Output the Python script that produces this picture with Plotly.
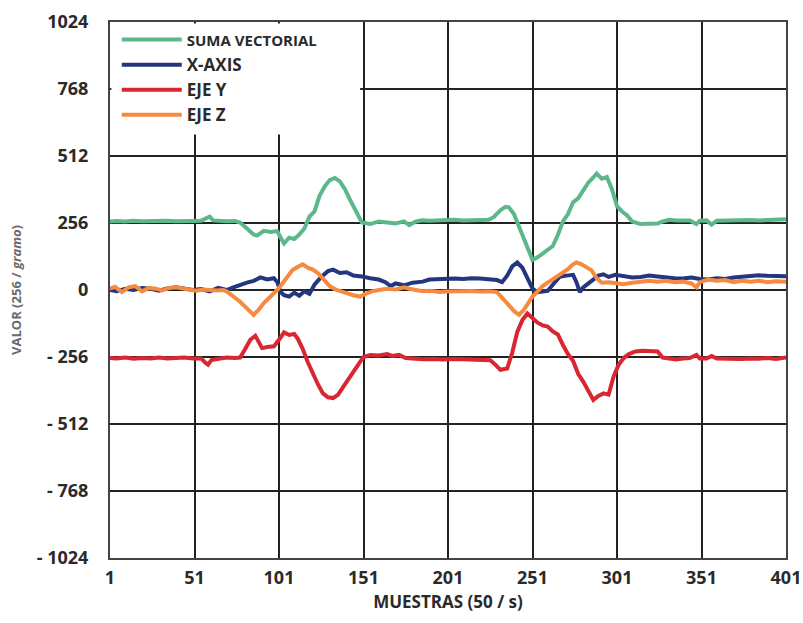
import plotly.graph_objects as go

# ---- data ----
x_ticks = [1, 51, 101, 151, 201, 251, 301, 351, 401]
y_ticks = [1024, 768, 512, 256, 0, -256, -512, -768, -1024]
y_ticklabels = ["1024", "768", "512", "256", "0", "- 256", "- 512", "- 768", "- 1024"]

suma_x = [1, 5, 10, 15, 20, 25, 30, 35, 40, 45, 50, 55, 58, 60, 62, 65, 70, 75, 78, 82, 86, 88, 92, 96,
          100, 102, 104, 107, 110, 113, 116, 119, 122, 125, 128, 131, 134, 137, 140, 143, 146, 150, 155,
          160, 165, 170, 175, 178, 182, 186, 190, 195, 200, 205, 210, 215, 220, 225, 228, 232, 235, 237,
          240, 243, 246, 249, 251, 254, 257, 260, 263, 266, 269, 272, 275, 278, 281, 284, 287, 289, 292,
          295, 298, 301, 304, 307, 310, 315, 320, 325, 328, 332, 336, 340, 344, 348, 350, 354, 357, 360,
          365, 370, 375, 380, 385, 390, 395, 401]
suma_y = [262, 264, 262, 265, 263, 264, 262, 265, 263, 262, 264, 265, 272, 280, 266, 264, 263, 264, 258,
          235, 212, 208, 226, 222, 225, 200, 178, 200, 195, 212, 235, 280, 300, 360, 395, 420, 428, 415,
          385, 345, 305, 258, 252, 262, 258, 254, 262, 248, 262, 266, 265, 267, 266, 268, 266, 267, 266,
          268, 278, 305, 318, 316, 290, 240, 190, 140, 115, 125, 140, 155, 168, 210, 262, 290, 335, 350,
          380, 410, 430, 445, 425, 432, 385, 320, 300, 285, 262, 252, 253, 254, 262, 268, 266, 267, 266,
          252, 265, 266, 250, 265, 266, 265, 266, 267, 266, 268, 267, 270]

xaxis_x = [1, 5, 10, 15, 20, 25, 30, 35, 40, 45, 50, 55, 60, 65, 70, 74, 78, 82, 86, 90, 94, 98, 100, 102,
           104, 107, 110, 113, 116, 119, 122, 126, 130, 133, 137, 141, 145, 150, 155, 160, 164, 167, 170,
           175, 180, 186, 190, 195, 200, 205, 210, 215, 220, 225, 230, 233, 236, 239, 242, 245, 248, 251,
           254, 257, 260, 263, 267, 271, 275, 277, 279, 281, 284, 287, 290, 293, 296, 300, 305, 310, 315,
           320, 325, 330, 335, 340, 345, 350, 355, 360, 365, 370, 375, 380, 385, 390, 395, 401]
xaxis_y = [0, -5, 5, 0, 8, 5, -3, 6, 10, 5, 0, 4, -5, 8, 0, 10, 20, 28, 35, 48, 40, 45, 30, -8, -20, -25,
           -10, -22, -5, -15, 20, 50, 72, 78, 65, 68, 55, 52, 45, 40, 30, 15, 25, 18, 28, 32, 40, 42, 45,
           44, 42, 45, 44, 40, 38, 30, 55, 90, 105, 85, 45, 5, -8, -5, -3, 20, 50, 55, 58, 30, -8, 10, 25,
           38, 55, 60, 50, 58, 52, 48, 50, 55, 52, 48, 45, 44, 48, 42, 40, 45, 42, 48, 50, 55, 56, 54, 55, 53]

ejey_x = [1, 5, 10, 15, 20, 25, 30, 35, 40, 45, 50, 55, 57, 59, 61, 65, 70, 75, 78, 81, 84, 87, 89, 91,
          94, 98, 101, 104, 107, 110, 112, 115, 118, 121, 124, 127, 130, 133, 136, 139, 142, 145, 148,
          151, 155, 160, 165, 168, 172, 176, 180, 186, 192, 198, 205, 212, 220, 226, 229, 232, 236, 239,
          242, 245, 248, 251, 254, 257, 260, 263, 266, 269, 272, 275, 278, 281, 284, 287, 290, 293, 296,
          299, 302, 305, 308, 312, 316, 320, 325, 328, 332, 336, 340, 344, 348, 350, 354, 357, 360, 365,
          370, 375, 380, 385, 390, 395, 401]
ejey_y = [-260, -262, -258, -263, -260, -262, -258, -262, -260, -258, -262, -262, -275, -285, -268, -262,
          -258, -260, -258, -225, -190, -175, -195, -222, -218, -215, -190, -162, -172, -168, -185, -225,
          -275, -320, -360, -395, -410, -413, -400, -370, -340, -310, -280, -256, -248, -250, -245, -252,
          -248, -260, -262, -265, -264, -266, -264, -265, -264, -268, -285, -305, -300, -240, -160, -115,
          -90, -110, -125, -135, -140, -158, -170, -210, -245, -270, -320, -350, -385, -420, -405, -395,
          -400, -330, -285, -260, -245, -235, -232, -233, -235, -258, -262, -265, -262, -260, -248, -262,
          -262, -252, -262, -263, -262, -264, -262, -263, -260, -264, -258]

ejez_x = [1, 4, 8, 12, 16, 20, 24, 28, 32, 36, 40, 44, 48, 52, 56, 60, 64, 68, 70, 74, 78, 82, 86, 89, 92,
          96, 100, 103, 106, 109, 112, 115, 118, 121, 124, 127, 131, 135, 138, 141, 145, 149, 152, 156,
          160, 165, 170, 175, 178, 182, 186, 190, 196, 200, 205, 210, 215, 220, 225, 230, 233, 236, 240,
          243, 246, 249, 251, 254, 257, 260, 264, 268, 272, 275, 277, 280, 283, 286, 289, 292, 296, 300,
          305, 310, 315, 320, 325, 330, 335, 340, 345, 348, 350, 355, 360, 365, 370, 375, 380, 385, 390,
          395, 401]
ejez_y = [5, 12, -8, 10, 15, -5, 8, 5, -2, 8, 10, 5, 0, -3, 2, 0, -2, 0, -5, -25, -45, -70, -95, -75, -50,
          -25, 0, 25, 50, 76, 88, 98, 85, 78, 65, 45, 15, 0, -8, -12, -20, -25, -15, -5, 0, 5, 2, 10, 5, 0,
          -5, -3, -8, -6, -5, -7, -4, -6, -5, -8, -30, -55, -80, -95, -75, -45, -25, -5, 15, 28, 45, 65, 80,
          98, 105, 98, 88, 75, 45, 28, 30, 25, 22, 28, 30, 35, 32, 35, 30, 32, 25, 10, 30, 40, 35, 38, 30,
          35, 32, 35, 30, 33, 32]

series = [
    ("<span style='font-size:15px'>SUMA VECTORIAL</span>", suma_x, suma_y, "#5cb88a"),
    ("X-AXIS", xaxis_x, xaxis_y, "#23367f"),
    ("EJE Y", ejey_x, ejey_y, "#d92631"),
    ("EJE Z", ejez_x, ejez_y, "#f68a3e"),
]

fig = go.Figure()
for i, (name, xs, ys, col) in enumerate(series):
    fig.add_trace(go.Scatter(x=xs, y=ys, mode="lines", name=name, legendgroup=f"g{i}",
                             line=dict(color=col, width=4)))

tickfont = dict(family="Open Sans", size=18, color="#2a2a2a", weight="bold")

fig.update_layout(
    width=803, height=623,
    margin=dict(l=110, r=17, t=22, b=65),
    paper_bgcolor="white", plot_bgcolor="white",
    showlegend=True,
    legend=dict(x=0.01, y=1.0, xanchor="left", yanchor="top",
                bgcolor="rgba(0,0,0,0)", borderwidth=0, tracegroupgap=0, itemwidth=60,
                font=dict(family="Open Sans", size=17, color="#2a2a2a", weight="bold")),
    shapes=[dict(type="rect", xref="paper", yref="paper", x0=0.002, x1=0.37, y0=0.79, y1=0.997,
                 fillcolor="white", line=dict(width=0), layer="above")],
    xaxis=dict(range=[1, 401], tickvals=x_ticks, ticktext=[str(v) for v in x_ticks],
               showgrid=True, gridcolor="#222222", gridwidth=1.5, zeroline=False,
               showline=True, linecolor="#444444", linewidth=2, mirror=True, automargin=False,
               tickfont=tickfont, ticks="", ticklabelstandoff=2,
               title=dict(text="MUESTRAS (50 / s)", standoff=9,
                          font=dict(family="Open Sans", size=17, color="#2a2a2a", weight="bold"))),
    yaxis=dict(range=[-1024, 1024], tickvals=y_ticks, ticktext=y_ticklabels,
               showgrid=True, gridcolor="#222222", gridwidth=1.5, zeroline=False,
               showline=True, linecolor="#444444", linewidth=2, mirror=True, automargin=False,
               tickfont=tickfont, ticks="", ticklabelstandoff=16,
               title=dict(text="VALOR (256 / <i>gramo</i>)", standoff=12,
                          font=dict(family="Open Sans", size=13, color="#6a6a6a", weight="bold"))),
)

# remove the page's default body margin so the figure fills the window exactly
fig.write_html("out.html", config={"displayModeBar": False},
               post_script="document.body.style.margin='0';document.body.style.overflow='hidden';")
